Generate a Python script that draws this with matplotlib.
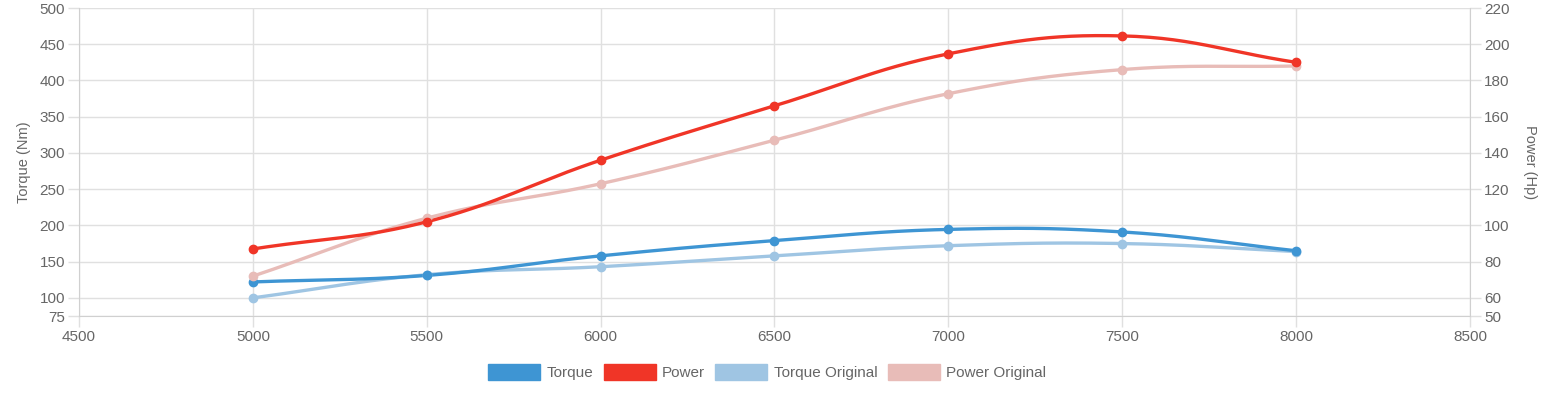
import numpy as np
import matplotlib
matplotlib.use('Agg')
import matplotlib.pyplot as plt
from matplotlib.patches import Patch

plt.rcParams['font.family'] = ['Liberation Sans', 'DejaVu Sans']

rpm = [5000, 5500, 6000, 6500, 7000, 7500, 8000]
torque = [122, 131, 158, 179, 194.5, 191, 165]
power = [87, 102, 136, 166, 194.7, 204.6, 190]
torque_orig = [100, 132, 143, 158, 172, 175, 164]
power_orig = [72, 104, 123, 147, 172.7, 186, 188]

c_torque = '#3e95d3'
c_power = '#f03527'
c_torque_o = '#9fc5e3'
c_power_o = '#e8bcb8'
grid_c = '#e0e0e0'
text_c = '#666666'

W, H = 1548, 397
fig = plt.figure(figsize=(W / 100, H / 100), dpi=100)
ax = fig.add_axes([79 / W, 1 - 316 / H, (1470 - 79) / W, (316 - 8) / H])
ax2 = ax.twinx()

xlim = (4500, 8500)
ylim_l = (75, 500)
ylim_r = (50, 220)


def smooth(xs, ys, ylim, t=0.4, n=30):
    # chart.js style bezier, control points computed in pixel space
    sx = (1470 - 79) / (xlim[1] - xlim[0])
    sy = (316 - 8) / (ylim[1] - ylim[0])
    p = np.column_stack([np.array(xs) * sx, np.array(ys) * sy])
    cp_prev, cp_next = [], []
    for i in range(len(p)):
        prv = p[max(i - 1, 0)]
        nxt = p[min(i + 1, len(p) - 1)]
        d01 = np.hypot(*(p[i] - prv))
        d12 = np.hypot(*(nxt - p[i]))
        tot = d01 + d12 if d01 + d12 > 0 else 1
        fa, fb = t * d01 / tot, t * d12 / tot
        cp_prev.append(p[i] - fa * (nxt - prv))
        cp_next.append(p[i] + fb * (nxt - prv))
    out = []
    u = np.linspace(0, 1, n)[:, None]
    for i in range(len(p) - 1):
        a, b, c, d = p[i], cp_next[i], cp_prev[i + 1], p[i + 1]
        seg = (1 - u) ** 3 * a + 3 * (1 - u) ** 2 * u * b + 3 * (1 - u) * u ** 2 * c + u ** 3 * d
        out.append(seg if i == 0 else seg[1:])
    out = np.vstack(out)
    return out[:, 0] / sx, out[:, 1] / sy


series = [
    (ax, torque_orig, c_torque_o, ylim_l),
    (ax2, power_orig, c_power_o, ylim_r),
    (ax, torque, c_torque, ylim_l),
    (ax2, power, c_power, ylim_r),
]
for a, vals, col, yl in series:
    sx_, sy_ = smooth(rpm, vals, yl)
    a.plot(sx_, sy_, color=col, lw=2.4, solid_capstyle='round', zorder=3)
    a.plot(rpm, vals, 'o', color=col, ms=6, zorder=4)

ax.set_xlim(*xlim)
ax.set_ylim(*ylim_l)
ax2.set_ylim(*ylim_r)
ax.set_xticks(range(4500, 8501, 500))
ax.set_yticks([75] + list(range(100, 501, 50)))
ax2.set_yticks([50] + list(range(60, 221, 20)))

ax.grid(True, color=grid_c, lw=1)
ax.set_axisbelow(True)
for a in (ax, ax2):
    for s in a.spines.values():
        s.set_visible(False)
    a.tick_params(length=8, width=1, color=grid_c, labelcolor=text_c, labelsize=11, pad=2)
ax.spines['left'].set_visible(True)
ax.spines['left'].set_color('#d0d0d0')
ax.spines['bottom'].set_visible(True)
ax.spines['bottom'].set_color('#d0d0d0')
ax2.spines['right'].set_visible(True)
ax2.spines['right'].set_color('#d0d0d0')

ax.set_ylabel('Torque (Nm)', color=text_c, fontsize=10.5, labelpad=6)
ax2.set_ylabel('Power (Hp)', color=text_c, fontsize=10.5, rotation=270, labelpad=20)

handles = [Patch(facecolor=c, edgecolor=c) for c in (c_torque, c_power, c_torque_o, c_power_o)]
fig.legend(handles, ['Torque', 'Power', 'Torque Original', 'Power Original'],
           loc='center', bbox_to_anchor=(767 / W, 1 - 372 / H), ncol=4, frameon=False,
           fontsize=11, labelcolor=text_c, handlelength=3.4, handleheight=1.2,
           handletextpad=0.4, columnspacing=0.7)

fig.savefig('out.png', dpi=100)
